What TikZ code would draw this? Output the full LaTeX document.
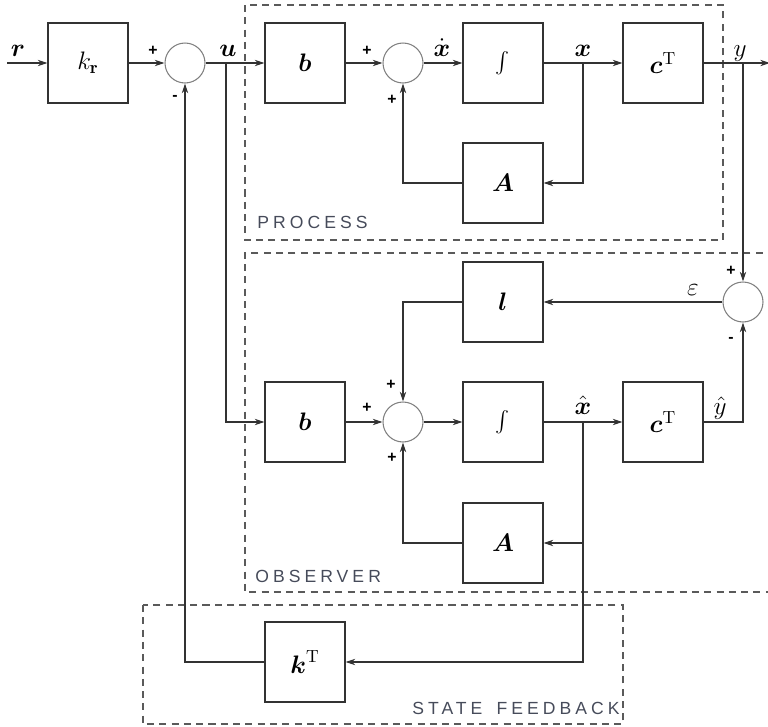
\documentclass[tikz,border=0pt]{standalone}
\usepackage{amsmath}
\usepackage{fontspec}
\usetikzlibrary{arrows.meta}
\newfontfamily\tagfont[LetterSpace=23]{Liberation Sans}
\newfontfamily\sgnfont{Liberation Sans}
\definecolor{cLine} {RGB}{50, 50, 50}
\definecolor{cFrame}{RGB}{90, 90, 90}
\definecolor{cTag}  {RGB}{70, 75, 90}
\tikzset{
  blk/.style   = {draw=cLine, line width=0.6pt, minimum width=1.6cm,
                  minimum height=1.6cm, inner sep=0pt, font=\Large},
  sumC/.style  = {circle, draw=gray, line width=0.6pt, minimum size=0.8cm,
                  inner sep=0pt},
  sgn/.style   = {font=\sgnfont\bfseries\small, inner sep=0pt},
  lbl/.style   = {font=\Large, inner sep=0pt},
  frm/.style   = {draw=cFrame, line width=0.6pt, dash pattern=on 4pt off 3pt},
  tag/.style   = {font=\tagfont\fontsize{10}{12}\selectfont, text=cTag,
                  inner sep=0pt},
  A/.style     = {-{Stealth[length=5.5pt,width=3.6pt]}, draw=cLine, line width=0.6pt},
}

\begin{document}
\begin{tikzpicture}[x=0.02cm, y=-0.02cm]
\useasboundingbox (0,0) rectangle (768,727);

%% ─── Frames ──────────────────────────────────────────────────────
\draw[frm] (245,5) rectangle (723,240);
\draw[frm] (775,253) -- (245,253) -- (245,592) -- (775,592);
\draw[frm] (143,605) rectangle (623,724);
\node[tag, anchor=west] (tagP) at (257,222) {PROCESS};
\node[tag, anchor=west] (tagO) at (255,576) {OBSERVER};
\node[tag, anchor=east] (tagF) at (620,708) {STATE\hspace{3pt} FEEDBACK};

%% ─── Reference path ──────────────────────────────────────────────
\coordinate (rin) at (7,63);
\node[blk] (kr) at (88,63)  {$k_{\boldsymbol{\mathrm{r}}}$};
\node[sumC] (S1) at (185,63) {};
\coordinate (u) at (226,63);

%% ════════════════════════════════════════════════════════════
%%  PROCESS
%% ════════════════════════════════════════════════════════════
\node[blk] (bP) at (305,63)  {$\boldsymbol{b}$};
\node[sumC] (S2) at (403,63) {};
\node[blk, font=\large] (IP) at (503,63)  {$\int$};
\node[blk] (cP) at (663,63)  {$\boldsymbol{c}^{\mathrm{T}}$};
\node[blk] (AP) at (503,183) {$\boldsymbol{A}$};
\coordinate (xP) at (583,63);
\coordinate (yP) at (743,63);
\coordinate (yout) at (770,63);

\draw[A] (rin) -- (kr.west);
\draw[A] (kr.east) -- (S1.west);
\draw[A] (S1.east) -- (bP.west);
\draw[A] (bP.east) -- (S2.west);
\draw[A] (S2.east) -- (IP.west);
\draw[A] (IP.east) -- (cP.west);
\draw[A] (cP.east) -- (yout);
\draw[A] (xP) |- (AP.east);
\draw[A] (AP.west) -| (S2.south);

%% ════════════════════════════════════════════════════════════
%%  OBSERVER
%% ════════════════════════════════════════════════════════════
\node[blk] (lO) at (503,302) {$\boldsymbol{l}$};
\node[sumC] (S3) at (743,302) {};
\node[blk] (bO) at (305,422) {$\boldsymbol{b}$};
\node[sumC] (S4) at (403,422) {};
\node[blk, font=\large] (IO) at (503,422) {$\int$};
\node[blk] (cO) at (663,422) {$\boldsymbol{c}^{\mathrm{T}}$};
\node[blk] (AO) at (503,543) {$\boldsymbol{A}$};
\coordinate (xO) at (583,422);

\draw[A] (yP) -- (S3.north);
\draw[A] (S3.west) -- (lO.east);
\draw[A] (lO.west) -| (S4.north);
\draw[A] (u) |- (bO.west);
\draw[A] (bO.east) -- (S4.west);
\draw[A] (S4.east) -- (IO.west);
\draw[A] (IO.east) -- (cO.west);
\draw[A] (cO.east) -| (S3.south);
\draw[A] (xO) |- (AO.east);
\draw[A] (AO.west) -| (S4.south);

%% ════════════════════════════════════════════════════════════
%%  STATE FEEDBACK
%% ════════════════════════════════════════════════════════════
\node[blk] (kT) at (305,662) {$\boldsymbol{k}^{\mathrm{T}}$};
\draw[A] (xO) |- (kT.east);
\draw[A] (kT.west) -| (S1.south);

%% ─── Signal labels ───────────────────────────────────────────────
\node[lbl, anchor=base] (lr)  at (18,56)   {$\boldsymbol{r}$};
\node[lbl, anchor=base] (lu)  at (228,56)  {$\boldsymbol{u}$};
\node[lbl, anchor=base] (lxd) at (442,56)  {$\dot{\boldsymbol{x}}$};
\node[lbl, anchor=base] (lx)  at (583,56)  {$\boldsymbol{x}$};
\node[lbl, anchor=base] (ly)  at (740,56)  {$y$};
\node[lbl, anchor=base] (le)  at (693,295) {$\varepsilon$};
\node[lbl, anchor=base] (lxh) at (583,414) {$\hat{\boldsymbol{x}}$};
\node[lbl, anchor=base] (lyh) at (720,414) {$\hat{y}$};

%% ─── Signs ───────────────────────────────────────────────────────
\node[sgn] (p1)  at (153,51)  {+};
\node[sgn] (m1)  at (175,98)  {-};
\node[sgn] (p2a) at (367,51)  {+};
\node[sgn] (p2b) at (392,100) {+};
\node[sgn] (p3)  at (731,271) {+};
\node[sgn] (m3)  at (731,340) {-};
\node[sgn] (p4a) at (367,408) {+};
\node[sgn] (p4b) at (391,385) {+};
\node[sgn] (p4c) at (392,458) {+};

\end{tikzpicture}
\end{document}
